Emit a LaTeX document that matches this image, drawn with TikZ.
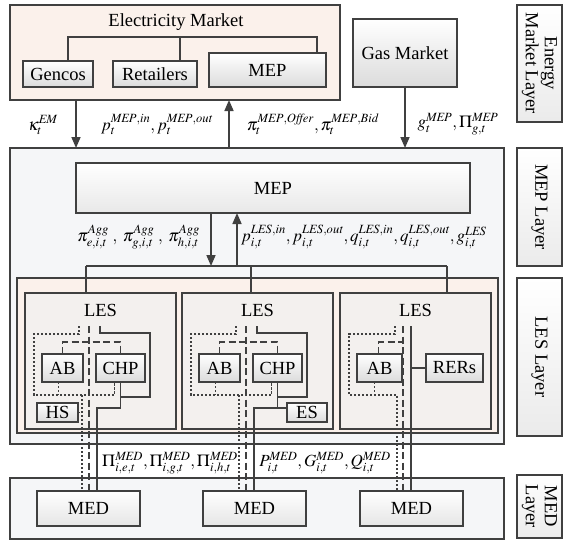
\documentclass[tikz,border=0pt]{standalone}
\usepackage{mathptmx}
\usepackage{fontspec}
\setmainfont{Liberation Serif}
\usetikzlibrary{arrows.meta}

\definecolor{linec}{HTML}{404040}
\definecolor{peach}{HTML}{FBF1EB}
\definecolor{lesfill}{HTML}{F3F0EE}
\definecolor{layfill}{HTML}{F5F6F8}

\begin{document}
\begin{tikzpicture}[
  x=1pt, y=-1pt,
  font=\fontsize{18.5}{19}\selectfont,
  frame/.style={draw=linec, line width=1.8pt, inner sep=0pt, outer sep=0pt,
                anchor=north west},
  box/.style={frame, top color=white, bottom color=black!14},
  wire/.style={draw=linec, line width=1.6pt},
  elec/.style={wire},
  gas/.style={wire, dash pattern=on 7pt off 3.5pt},
  heat/.style={wire, line width=1.8pt, dash pattern=on 2.2pt off 1.8pt},
  arr/.style={wire, -{Triangle[length=11pt,width=9pt]}},
  lbl/.style={inner sep=0pt, font=\fontsize{17}{18}\selectfont},
  layer/.style={draw=linec, line width=1.8pt, inner sep=0pt, rotate=-90,
                align=center, top color=white, bottom color=black!8},
]
  \useasboundingbox (0,0) rectangle (563,542);

  % ======== Energy market layer ========
  \node[frame, fill=peach, minimum width=330pt, minimum height=95pt] (em) at (10,5) {};
  \node (emt) at (176,22) {Electricity Market};
  \node[box, minimum width=70pt, minimum height=26pt] (gencos) at (23,61) {Gencos};
  \node[box, minimum width=84pt, minimum height=26pt] (retail) at (113,61) {Retailers};
  \node[box, minimum width=117pt, minimum height=34pt] (mepm) at (209,53) {MEP};
  \node[box, minimum width=104pt, minimum height=68pt] (gasm) at (353,19) {Gas Market};

  % market bus
  \coordinate (emb) at (0,37);
  \draw[wire] ([xshift=10pt]gencos.north) -- ([xshift=10pt]gencos.north |- emb)
    -| ([xshift=-9pt]mepm.north east);
  \draw[wire] ([xshift=25pt]retail.north) -- ([xshift=25pt]retail.north |- emb);

  % ======== MEP layer ========
  \node[frame, fill=layfill, minimum width=494pt, minimum height=296pt] (mepl) at (10,148) {};
  \node[frame, top color=white, bottom color=black!9, minimum width=394pt,
        minimum height=50pt] (mep) at (76,163) {MEP};

  % --- market <-> MEP ---
  \coordinate (kx) at (76,0);
  \coordinate (ox) at (229,0);
  \draw[arr] (em.south -| kx) -- (mepl.north -| kx);
  \draw[arr] (mepl.north -| ox) -- (em.south -| ox);
  \draw[arr] (gasm.south) -- (gasm.south |- mepl.north);

  \node[lbl] (kap) at (43,125) {$\kappa_t^{\mathit{EM}}$};
  \node[lbl] (pmep) at (157,124) {$p_t^{\mathit{MEP,in}}, p_t^{\mathit{MEP,out}}$};
  \node[lbl] (pimep) at (313,124) {$\pi_t^{\mathit{MEP,Offer}}, \pi_t^{\mathit{MEP,Bid}}$};
  \node[lbl] (gmep) at (458,124) {$g_t^{\mathit{MEP}}, \Pi_{g,t}^{\mathit{MEP}}$};

  % ======== LES layer ========
  \node[frame, fill=peach, minimum width=481pt, minimum height=155pt] (lesc) at (17,278) {};
  \foreach \x/\n in {25/1,182/2,340/3}
    \node[frame, fill=lesfill, minimum width=151pt, minimum height=136pt] (les\n) at (\x,293) {};
  \foreach \n in {1,2,3}
    \node (lest\n) at ([yshift=-17pt]les\n.north) {LES};

  % --- MEP <-> LES ---
  \coordinate (b1) at (86,266);
  \coordinate (b2) at (251,266);
  \coordinate (b3) at (447,266);
  \draw[wire] (b1) -- (b3);
  \foreach \n in {1,2,3}
    \draw[wire] (b\n) -- (les\n.north -| b\n);

  \coordinate (dn) at (211,266);
  \coordinate (up) at (237,266);
  \draw[arr] (mep.south -| dn) -- (dn);
  \draw[arr] (up) -- (mep.south -| up);

  \node[lbl, anchor=east] (piagg) at (200,237)
    {$\pi_{e,i,t}^{\mathit{Agg}}\;,\; \pi_{g,i,t}^{\mathit{Agg}}\;,\; \pi_{h,i,t}^{\mathit{Agg}}$};
  \node[lbl, anchor=west] (ples) at (241,237)
    {$p_{i,t}^{\mathit{LES,in}}, p_{i,t}^{\mathit{LES,out}}, q_{i,t}^{\mathit{LES,in}},
      q_{i,t}^{\mathit{LES,out}}, g_{i,t}^{\mathit{LES}}$};

  % ======== MED layer ========
  \node[frame, fill=layfill, minimum width=494pt, minimum height=61pt] (medl) at (10,478) {};
  \foreach \x/\n in {37/1,203/2,360/3}
    \node[box, bottom color=black!10, minimum width=103pt, minimum height=35pt]
      (med\n) at (\x,491) {MED};

  \node[lbl] (pimed) at (170,463)
    {$\Pi_{i,e,t}^{\mathit{MED}}, \Pi_{i,g,t}^{\mathit{MED}}, \Pi_{i,h,t}^{\mathit{MED}}$};
  \node[lbl] (pmed) at (325,463)
    {$P_{i,t}^{\mathit{MED}}, G_{i,t}^{\mathit{MED}}, Q_{i,t}^{\mathit{MED}}$};

  % --- LES 1 and 2: AB + CHP ---
  \foreach \i/\o in {1/0,2/157} {
    \begin{scope}[xshift=\o pt]
      \node[box, minimum width=41pt, minimum height=28pt] (ab\i) at (42,354) {AB};
      \node[box, minimum width=49pt, minimum height=28pt] (chp\i) at (96,354) {CHP};
      \coordinate (hin\i) at (79,326);
      \coordinate (gin\i) at (89,326);
      \coordinate (ein\i) at (100,326);
      \coordinate (hout\i) at (82,395);
      \coordinate (eloop\i) at (150,397);
      \coordinate (eout\i) at (97,408);
      % heat
      \draw[heat] (hin\i) -- ++(0,8) -- ++(-45,0) |- ([xshift=-6pt]chp\i.south |- hout\i)
        -- ([xshift=-6pt]chp\i.south);
      \draw[heat] ([xshift=-4pt]ab\i.south) -- ([xshift=-4pt]ab\i.south |- hout\i);
      \draw[heat] (hout\i) -- (hout\i |- med\i.north);
      % gas
      \draw[gas] (gin\i) -- (gin\i |- med\i.north);
      \draw[gas] (ab\i.north) -- ++(0,-12) -| (chp\i.north);
      % power
      \draw[elec] (ein\i) -- ++(0,7) -| (eloop\i) -- (eloop\i -| chp\i.south);
      \draw[elec] (chp\i.south) |- (eout\i) -- (eout\i |- med\i.north);
    \end{scope}
  }
  \node[box, minimum width=41pt, minimum height=19pt] (hs1) at (37,403) {HS};
  \draw[heat] (hs1.east) -- (hs1.east -| hout1);
  \node[box, minimum width=40pt, minimum height=19pt] (es2) at (287,403) {ES};
  \draw[elec] (eout2 -| chp2.south) -- (es2.west |- eout2);

  % --- LES 3: AB + RERs ---
  \node[box, minimum width=45pt, minimum height=28pt] (ab3) at (357,354) {AB};
  \node[box, minimum width=57pt, minimum height=28pt] (rers3) at (426,354) {RERs};
  \coordinate (hin3) at (395,326);
  \coordinate (gin3) at (403,326);
  \coordinate (ein3) at (411,326);
  \coordinate (hout3) at (397,395);
  \draw[heat] (hin3) -- ++(0,8) -- ++(-46,0) |- (hout3) -- (hout3 |- med3.north);
  \draw[heat] ([xshift=-5pt]ab3.south) -- ([xshift=-5pt]ab3.south |- hout3);
  \draw[gas] (gin3) -- (gin3 |- med3.north);
  \draw[gas] ([xshift=-1pt]ab3.north) -- ++(0,-12) -- ++(25,0);
  \draw[elec] (ein3) -- (ein3 |- med3.north);
  \draw[elec] (rers3.west) -- (rers3.west -| ein3);

  % ======== Layer tags ========
  \node[layer, minimum width=117pt, minimum height=45pt] (tag1) at (539.5,63.5)
    {Energy\\Market Layer};
  \node[layer, minimum width=118pt, minimum height=45pt] (tag2) at (539.5,207) {MEP Layer};
  \node[layer, minimum width=158pt, minimum height=45pt] (tag3) at (539.5,357) {LES Layer};
  \node[layer, minimum width=63pt, minimum height=45pt] (tag4) at (539.5,506.5)
    {MED\\Layer};

\end{tikzpicture}
\end{document}
